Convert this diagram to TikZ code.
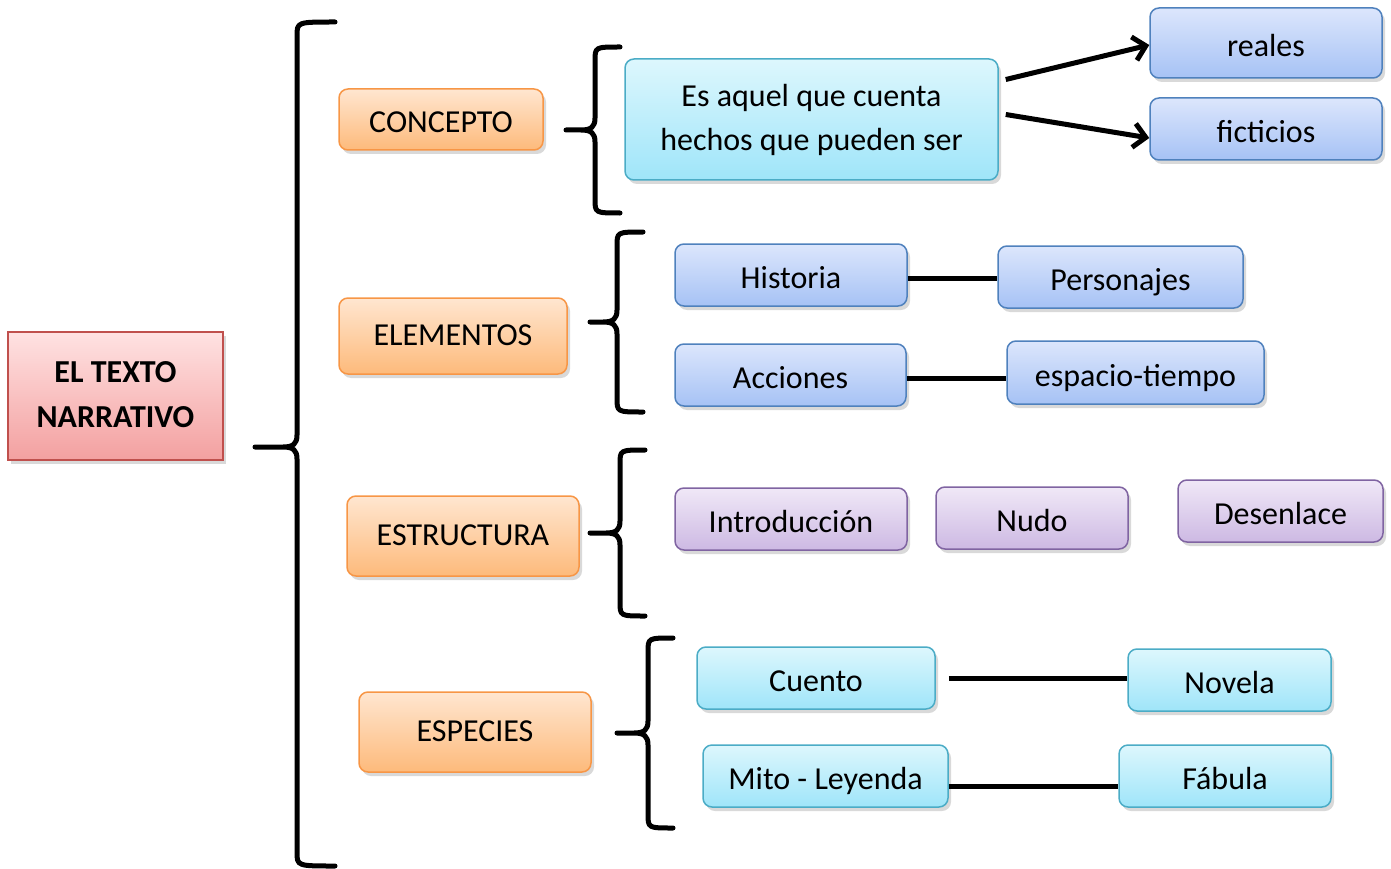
\documentclass[tikz,border=0pt]{standalone}
\usepackage{fontspec}
\setmainfont{Carlito}
\usetikzlibrary{arrows.meta,shadows}

\definecolor{rojoborde}{HTML}{C0504D}
\definecolor{rojoarriba}{HTML}{FFE2E2}
\definecolor{rojoabajo}{HTML}{F3A0A0}
\definecolor{naranjaborde}{HTML}{F79646}
\definecolor{naranjaarriba}{HTML}{FFE6D0}
\definecolor{naranjaabajo}{HTML}{FDBA7B}
\definecolor{celesteborde}{HTML}{4BACC6}
\definecolor{celestearriba}{HTML}{DDF7FD}
\definecolor{celesteabajo}{HTML}{9FE5F9}
\definecolor{azulborde}{HTML}{4F81BD}
\definecolor{azularriba}{HTML}{DCE6FC}
\definecolor{azulabajo}{HTML}{A6C2F5}
\definecolor{moradoborde}{HTML}{8064A2}
\definecolor{moradoarriba}{HTML}{F0E8F7}
\definecolor{moradoabajo}{HTML}{CDB9E3}

\tikzset{
  caja/.style={draw, line width=1.5pt, rounded corners=9pt, align=center,
    font=\fontsize{32}{44}\selectfont, inner sep=0pt, text depth=2pt,
    drop shadow={shadow xshift=3pt, shadow yshift=-4pt, opacity=.3}},
  bajo/.style={text height=27pt, text depth=0pt},
  titulo/.style={caja, rounded corners=0pt, draw=rojoborde,
    top color=rojoarriba, bottom color=rojoabajo,
    font=\fontsize{32}{45}\selectfont\bfseries},
  naranja/.style={caja, draw=naranjaborde, top color=naranjaarriba, bottom color=naranjaabajo},
  celeste/.style={caja, bajo, draw=celesteborde, top color=celestearriba, bottom color=celesteabajo},
  azul/.style={caja, bajo, draw=azulborde, top color=azularriba, bottom color=azulabajo},
  morado/.style={caja, bajo, draw=moradoborde, top color=moradoarriba, bottom color=moradoabajo},
  llave/.style={line width=5pt, line cap=round, line join=round},
  enlace/.style={line width=5pt},
  flecha/.style={line width=5pt, -{Straight Barb[length=12pt,width=24pt]}}
}

\begin{document}
\begin{tikzpicture}[x=1pt,y=-1pt]
  \useasboundingbox (0,0) rectangle (1391,869);

  % nodo principal
  \node[titulo, minimum width=215, minimum height=128] (texto) at (115.5,396) {EL TEXTO\\NARRATIVO};

  % temas
  \node[naranja, bajo, minimum width=204, minimum height=61] (concepto) at (441,119.5) {CONCEPTO};
  \node[naranja, minimum width=228, minimum height=76] (elementos) at (453,336) {ELEMENTOS};
  \node[naranja, minimum width=232, minimum height=80] (estructura) at (463,536) {ESTRUCTURA};
  \node[naranja, minimum width=232, minimum height=80] (especies) at (475,732) {ESPECIES};

  % concepto
  \node[celeste, text height={}, text depth={}, minimum width=373, minimum height=121] (aquel) at (811.5,119.5) {Es aquel que cuenta\\hechos que pueden ser};
  \node[azul, minimum width=232, minimum height=70] (reales) at (1266,43) {reales};
  \node[azul, minimum width=232, minimum height=62] (ficticios) at (1266,129) {ficticios};

  % elementos
  \node[azul, minimum width=232, minimum height=62] (historia) at (791,275) {Historia};
  \node[azul, minimum width=245, minimum height=62] (personajes) at (1120.5,277) {Personajes};
  \node[azul, minimum width=231, minimum height=62] (acciones) at (790.5,375) {Acciones};
  \node[azul, minimum width=257, minimum height=63] (espacio) at (1135.5,372.5) {espacio-tiempo};

  % estructura
  \node[morado, minimum width=232, minimum height=62] (intro) at (791,519) {Introducción};
  \node[morado, minimum width=192, minimum height=62] (nudo) at (1032,518) {Nudo};
  \node[morado, minimum width=205, minimum height=62] (desenlace) at (1280.5,511) {Desenlace};

  % especies
  \node[celeste, minimum width=238, minimum height=62] (cuento) at (816,678) {Cuento};
  \node[celeste, minimum width=203, minimum height=62] (novela) at (1229.5,680) {Novela};
  \node[celeste, minimum width=245, minimum height=62] (mito) at (825.5,776) {Mito - Leyenda};
  \node[celeste, minimum width=212, minimum height=62] (fabula) at (1225,776) {Fábula};

  % llaves: vertical / arriba / abajo / punta x / punta y / extremo
  \foreach \xv/\yt/\yb/\xt/\yp/\xe in {297/22/866/255/447/335, 595/47/213/566/130/620,
      617/232/412/590/322/643, 620/450/616/590/533/645, 648/638/828/617/733/673}
    \draw[llave] (\xe,\yt) .. controls (\xv,\yt) .. (\xv,\yt+14) -- (\xv,\yp-12)
      .. controls (\xv,\yp-3) and (\xv-4,\yp) .. (\xv-14,\yp) -- (\xt,\yp)
      (\xv-14,\yp) .. controls (\xv-4,\yp) and (\xv,\yp+3) .. (\xv,\yp+12)
      -- (\xv,\yb-14) .. controls (\xv,\yb) .. (\xe,\yb);

  % flechas
  \draw[flecha] ([shift={(7,-40)}]aquel.east) -- ([yshift=-2pt]reales.west);
  \draw[flecha] ([shift={(7,-5)}]aquel.east) -- ([yshift=-9pt]ficticios.west);

  % enlaces
  \draw[enlace] ([yshift=-3pt]historia.east) -- ([yshift=-3pt]historia.east -| personajes.west);
  \draw[enlace] ([yshift=-3pt]acciones.east) -- ([yshift=-3pt]acciones.east -| espacio.west);
  \draw[enlace, shorten <=13pt] (cuento.east) -- (cuento.east -| novela.west);
  \draw[enlace] ([yshift=-10pt]mito.east) -- ([yshift=-10pt]mito.east -| fabula.west);
\end{tikzpicture}
\end{document}
